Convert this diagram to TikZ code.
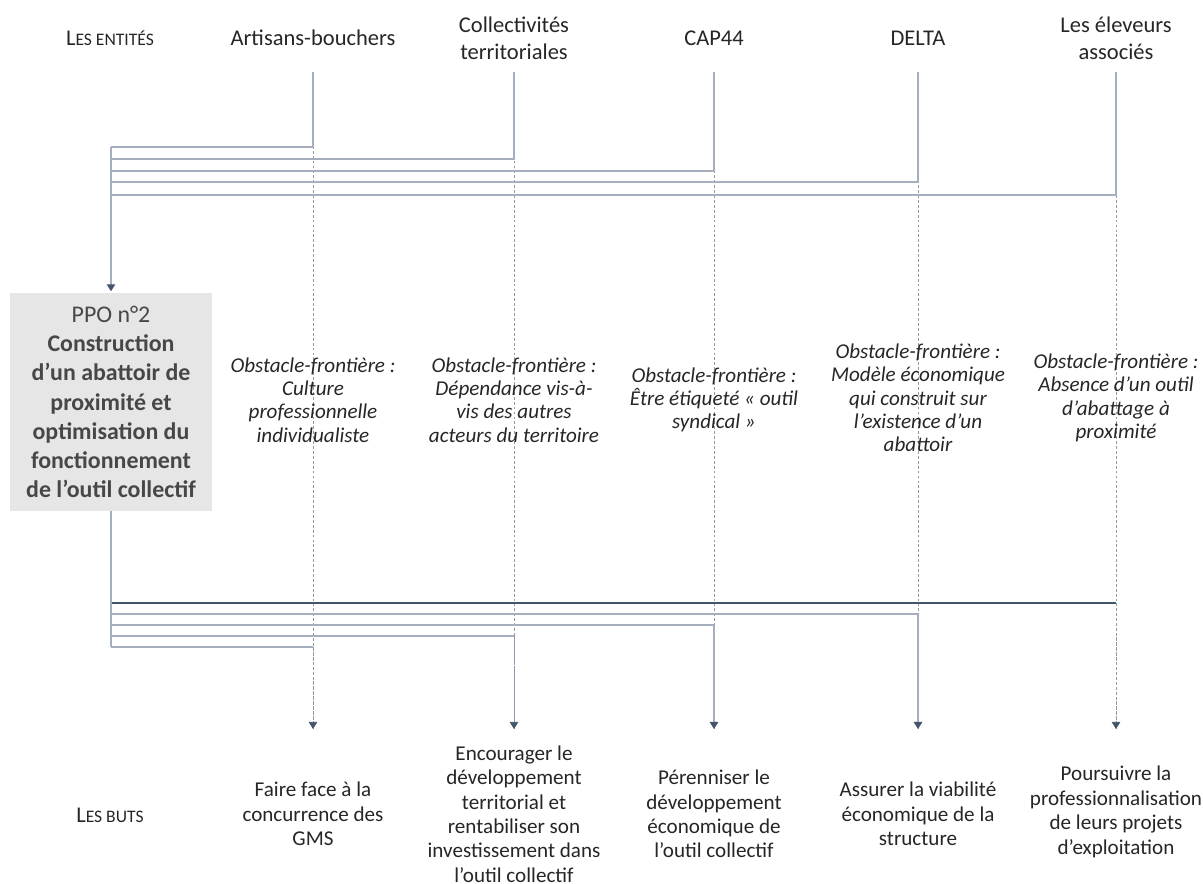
\documentclass[tikz,border=0pt]{standalone}
\usepackage{fontspec}
\setmainfont{Carlito}
\usetikzlibrary{arrows.meta,positioning}

\definecolor{slate}{HTML}{44546A}
\definecolor{linkgray}{HTML}{A5AFBE}
\definecolor{guidegray}{HTML}{8E99AB}
\definecolor{boxfill}{HTML}{E7E6E6}
\definecolor{ink}{HTML}{262626}

\begin{document}
\begin{tikzpicture}[x=0.025cm,y=-0.025cm,
  every node/.style={text=ink,align=center,inner sep=0pt},
  head/.style={font=\fontsize{16}{19.2}\selectfont},
  obst/.style={font=\fontsize{15}{16.6}\selectfont\itshape},
  goal/.style={font=\fontsize{15}{17.4}\selectfont},
  ppobox/.style={fill=boxfill,text=ink!85,minimum width=5.05cm,minimum height=5.45cm,
    font=\fontsize{17}{20.8}\selectfont},
  link/.style={linkgray,line width=0.9pt},
  guide/.style={guidegray,line width=0.5pt,dash pattern=on 2pt off 1.5pt},
  tip/.style={-{Triangle[width=6pt,length=5pt,color=slate]}}]

  \useasboundingbox (0,0) rectangle (1203,883);

  % colonnes des entites
  \node[head] (ent0) at (110,38) {L{\fontsize{12.5}{14}\selectfont ES ENTITÉS}};
  \foreach \x/\name [count=\i] in {313/Artisans-bouchers,514/Collectivités\\territoriales,
      714/CAP44,918/DELTA,1116/Les éleveurs\\associés}{
    \node[head] (ent\i) at (\x,38) {\name};
    \coordinate (top\i) at (\x,72);
    \coordinate (tip\i) at (\x,729);
    \draw[guide] (top\i) -- (tip\i);
  }

  \node[ppobox] (ppo) at (111,402) {PPO n°2\\\textbf{Construction}\\\textbf{d’un abattoir de}\\
    \textbf{proximité et}\\\textbf{optimisation du}\\\textbf{fonctionnement}\\\textbf{de l’outil collectif}};

  % vers la PPO
  \foreach \y [count=\i] in {147,159,171,182,195}{
    \coordinate (in\i) at (111,\y);
    \draw[link] (top\i) |- (in\i);
  }
  \draw[link,tip,shorten >=1pt] (in1) -- (ppo.north);

  % vers les buts
  \foreach \y/\drop/\col [count=\i] in {647/guide/linkgray,636/guide/linkgray,625/link/linkgray,
      614/link/linkgray,603/guide/slate}{
    \coordinate (out\i) at (111,\y);
    \draw[link,\col] (out\i) -- (out\i -| tip\i);
    \draw[\drop,tip] (out\i -| tip\i) -- (tip\i);
  }
  \draw[link] (ppo.south) -- (out1);

  % obstacles-frontieres
  \node[obst] (obs1) at (313,400) {Obstacle-frontière :\\Culture\\professionnelle\\individualiste};
  \node[obst] (obs2) at (514,400) {Obstacle-frontière :\\Dépendance vis-à-\\vis des autres\\acteurs du territoire};
  \node[obst] (obs3) at (714,400) {Obstacle-frontière :\\Être étiqueté « outil\\syndical »};
  \node[obst] (obs4) at (918,398) {Obstacle-frontière :\\Modèle économique\\qui construit sur\\l’existence d’un\\abattoir};
  \node[obst] (obs5) at (1116,398) {Obstacle-frontière :\\Absence d’un outil\\d’abattage à\\proximité};

  % buts
  \node[head] (but0) at (110,815) {L{\fontsize{12.5}{14}\selectfont ES BUTS}};
  \node[goal] (but1) at (313,814) {Faire face à la\\concurrence des\\GMS};
  \node[goal] (but2) at (514,814) {Encourager le\\développement\\territorial et\\rentabiliser son\\investissement dans\\l’outil collectif};
  \node[goal] (but3) at (714,814) {Pérenniser le\\développement\\économique de\\l’outil collectif};
  \node[goal] (but4) at (918,814) {Assurer la viabilité\\économique de la\\structure};
  \node[goal] (but5) at (1116,812) {Poursuivre la\\professionnalisation\\de leurs projets\\d’exploitation};
\end{tikzpicture}
\end{document}
